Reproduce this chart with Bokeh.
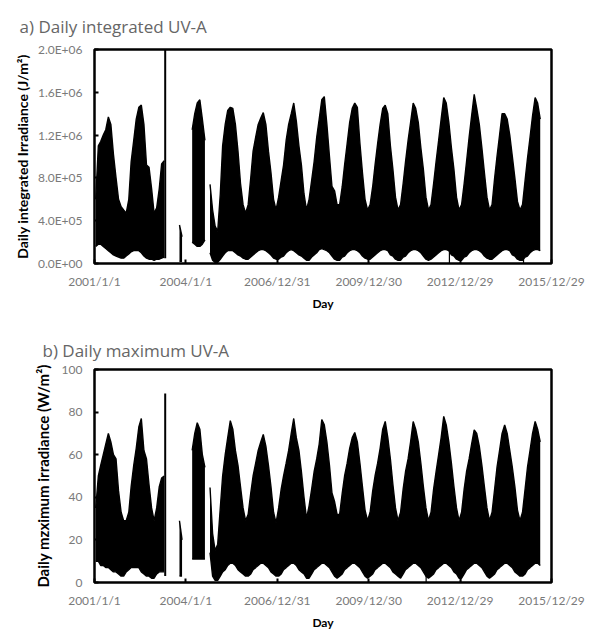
import pandas as pd
from bokeh.plotting import figure
from bokeh.layouts import column
from bokeh.models import Range1d, FixedTicker
from bokeh.embed import file_html
from bokeh.resources import INLINE

N = None
START = pd.Timestamp("2001-01-01")

# x-axis tick labels (dates on the axis)
x_tick_labels = ["2001/1/1", "2004/1/1", "2006/12/31", "2009/12/30", "2012/12/29", "2015/12/29"]

# y-axis ticks
ya_ticks = [0, 400000, 800000, 1200000, 1600000, 2000000]
ya_labels = ["0.0E+00", "4.0E+05", "8.0E+05", "1.2E+06", "1.6E+06", "2.0E+06"]
yb_ticks = [0, 20, 40, 60, 80, 100]
yb_labels = ["0", "20", "40", "60", "80", "100"]

# monthly months 2001-01 .. 2015-12
months = pd.date_range("2001-01-01", periods=180, freq="MS")

# a) daily integrated UV-A, monthly upper / lower envelope of the daily values (x 1e6 J/m2)
integ_hi = [
    0.60, 1.10, 1.14, 1.20, 1.25, 1.37, 1.30, 1.02, 0.80, 0.60, 0.53, 0.50,  # 2001
    0.47, 0.60, 0.95, 1.15, 1.35, 1.46, 1.48, 1.30, 0.92, 0.90, 0.70, 0.47,  # 2002
    0.52, 0.70, 0.93, 0.96, N, N, N, N, N, 0.36, 0.25, N,                    # 2003
    N, N, 1.25, 1.40, 1.50, 1.53, 1.35, 1.15, N, 0.74, 0.50, 0.35,           # 2004
    0.30, 0.65, 1.10, 1.30, 1.43, 1.46, 1.45, 1.30, 1.05, 0.75, 0.55, 0.47,  # 2005
    0.55, 0.80, 1.05, 1.18, 1.30, 1.36, 1.41, 1.30, 1.05, 0.85, 0.60, 0.50,  # 2006
    0.62, 0.78, 0.92, 1.15, 1.30, 1.40, 1.50, 1.33, 1.10, 0.92, 0.65, 0.50,  # 2007
    0.60, 0.78, 0.95, 1.18, 1.35, 1.53, 1.56, 1.30, 1.00, 0.72, 0.68, 0.55,  # 2008
    0.55, 0.72, 0.92, 1.12, 1.32, 1.45, 1.50, 1.46, 1.12, 0.85, 0.60, 0.50,  # 2009
    0.55, 0.72, 0.92, 1.12, 1.30, 1.45, 1.48, 1.40, 1.10, 0.88, 0.62, 0.50,  # 2010
    0.55, 0.75, 0.95, 1.15, 1.32, 1.50, 1.45, 1.32, 1.08, 0.88, 0.62, 0.50,  # 2011
    0.55, 0.75, 0.95, 1.15, 1.35, 1.55, 1.50, 1.32, 1.08, 0.88, 0.62, 0.50,  # 2012
    0.55, 0.75, 0.95, 1.18, 1.38, 1.58, 1.45, 1.30, 1.08, 0.85, 0.62, 0.50,  # 2013
    0.55, 0.80, 1.00, 1.20, 1.40, 1.40, 1.35, 1.20, 1.00, 0.80, 0.58, 0.50,  # 2014
    0.55, 0.78, 0.98, 1.18, 1.38, 1.55, 1.50, 1.35, N, N, N, N,              # 2015
]
integ_lo = [
    0.16, 0.18, 0.18, 0.16, 0.14, 0.12, 0.10, 0.08, 0.07, 0.06, 0.05, 0.05,  # 2001
    0.07, 0.09, 0.11, 0.12, 0.12, 0.12, 0.10, 0.07, 0.05, 0.04, 0.04, 0.03,  # 2002
    0.04, 0.04, 0.05, 0.06, N, N, N, N, N, 0.02, 0.02, N,                    # 2003
    N, N, 0.20, 0.18, 0.16, 0.16, 0.18, 0.22, N, 0.10, 0.03, 0.01,           # 2004
    0.01, 0.04, 0.07, 0.10, 0.12, 0.12, 0.12, 0.10, 0.08, 0.07, 0.05, 0.04,  # 2005
    0.04, 0.06, 0.08, 0.10, 0.12, 0.13, 0.13, 0.12, 0.10, 0.08, 0.05, 0.04,  # 2006
    0.04, 0.06, 0.07, 0.10, 0.12, 0.13, 0.12, 0.10, 0.08, 0.07, 0.05, 0.03,  # 2007
    0.03, 0.06, 0.08, 0.10, 0.13, 0.14, 0.13, 0.12, 0.10, 0.07, 0.04, 0.03,  # 2008
    0.03, 0.06, 0.07, 0.10, 0.12, 0.13, 0.13, 0.12, 0.10, 0.07, 0.05, 0.04,  # 2009
    0.04, 0.06, 0.08, 0.10, 0.12, 0.13, 0.13, 0.12, 0.08, 0.07, 0.04, 0.03,  # 2010
    0.03, 0.06, 0.07, 0.10, 0.12, 0.13, 0.13, 0.12, 0.10, 0.07, 0.04, 0.03,  # 2011
    0.04, 0.06, 0.08, 0.10, 0.12, 0.13, 0.13, 0.12, 0.08, 0.07, 0.04, 0.03,  # 2012
    0.03, 0.06, 0.07, 0.10, 0.12, 0.13, 0.13, 0.12, 0.10, 0.07, 0.05, 0.04,  # 2013
    0.04, 0.06, 0.08, 0.10, 0.12, 0.13, 0.13, 0.12, 0.08, 0.07, 0.04, 0.03,  # 2014
    0.03, 0.06, 0.07, 0.10, 0.12, 0.13, 0.13, 0.12, N, N, N, N,              # 2015
]

# b) daily maximum UV-A, monthly upper / lower envelope (W/m2)
max_hi = [
    35, 50, 55, 60, 65, 70, 66, 60, 58, 43, 33, 29,        # 2001
    29, 33, 45, 55, 63, 73, 77, 62, 58, 46, 35, 29,        # 2002
    35, 45, 49, 50, N, N, N, N, N, 29, 20, N,              # 2003
    N, N, 62, 70, 75, 72, 60, 54, N, 44.6, 23, 15,         # 2004
    18, 35, 50, 60, 68, 76, 72, 62, 55, 45, 35, 29,        # 2005
    32, 42, 50, 56, 62, 66, 69.5, 64, 55, 45, 33, 28,      # 2006
    35, 44, 50, 56, 62, 70, 77, 68, 62, 52, 40, 30,        # 2007
    36, 44, 52, 58, 65, 76.5, 74, 66, 55, 42, 38, 32,      # 2008
    32, 42, 50, 56, 63, 68, 70.4, 66, 56, 45, 34, 29,      # 2009
    33, 43, 50, 56, 63, 72, 75.6, 68, 58, 46, 35, 29,      # 2010
    33, 44, 52, 58, 66, 75.6, 72, 66, 56, 45, 35, 29,      # 2011
    33, 44, 52, 60, 68, 78, 74, 66, 56, 45, 35, 29,        # 2012
    33, 44, 52, 58, 65, 71.7, 70, 64, 55, 45, 35, 29,      # 2013
    33, 44, 54, 62, 70, 74, 70, 62, 54, 45, 34, 29,        # 2014
    33, 44, 54, 62, 70, 75.6, 72, 66, N, N, N, N,          # 2015
]
max_lo = [
    10, 10, 8, 8, 7, 7, 6, 5, 5, 4, 3, 3,                  # 2001
    5, 6, 7, 7, 7, 7, 5, 4, 3, 3, 2, 2,                    # 2002
    4, 5, 5, 5, N, N, N, N, N, 3, 3, N,                    # 2003
    N, N, 11, 11, 11, 11, 11, 11, N, 14, 3, 1,             # 2004
    1, 3, 5, 6, 8, 9, 9, 8, 6, 5, 4, 3,                    # 2005
    3, 4, 6, 7, 8, 9, 9, 8, 7, 5, 4, 3,                    # 2006
    3, 4, 6, 7, 8, 9, 9, 8, 6, 5, 4, 2,                    # 2007
    2, 4, 6, 7, 8, 9, 9, 8, 7, 5, 3, 2,                    # 2008
    3, 4, 6, 7, 8, 9, 9, 8, 7, 5, 3, 2,                    # 2009
    3, 4, 6, 7, 8, 9, 9, 8, 7, 5, 4, 3,                    # 2010
    2, 4, 6, 7, 8, 9, 9, 8, 7, 5, 3, 2,                    # 2011
    3, 4, 6, 7, 8, 9, 9, 8, 7, 5, 4, 2,                    # 2012
    2, 4, 6, 7, 8, 9, 9, 8, 7, 5, 3, 2,                    # 2013
    3, 4, 6, 7, 8, 9, 9, 8, 7, 5, 4, 3,                    # 2014
    3, 4, 6, 7, 8, 9, 9, 8, N, N, N, N,                    # 2015
]

# isolated single-day spikes
spike_dates = ["2003-04-28"]
spike_integ = [2.05]     # x 1e6 J/m2
spike_max = [88.7]       # W/m2

# single-day drops to near zero
drop_dates_integ = ["2012-08-23", "2015-01-28"]
drop_dates_max = ["2011-11-18", "2013-01-05"]

SCALE_A = 1e6
FONT = "Lato"
TITLE_FONT = "Open Sans"
GREY = "#7a7a7a"


def day_of(ts):
    return (pd.Timestamp(ts) - START).days


x_ticks = [day_of(pd.to_datetime(s, format="%Y/%m/%d")) for s in x_tick_labels]
x_mid = [day_of(m) + 15 for m in months]


def draw_series(p, hi, lo, scale):
    run = []
    runs = []
    for x, h, l in zip(x_mid, hi, lo):
        if h is None:
            if run:
                runs.append(run)
            run = []
        else:
            run.append((x, h * scale, l * scale))
    if run:
        runs.append(run)
    for r in runs:
        xs = [t[0] for t in r]
        ys_hi = [t[1] for t in r]
        ys_lo = [t[2] for t in r]
        p.varea(x=xs, y1=ys_lo, y2=ys_hi, fill_color="black")
        p.line(xs, ys_hi, line_color="black", line_width=1.4)
        p.line(xs, ys_lo, line_color="black", line_width=1.4)


def make_panel(title, t_offset, t_standoff, y_end, y_ticks, y_labels, y_title, y_title_size,
               hi, lo, scale, spikes, spike_base, drops, drop_top, borders, ylab_standoff):
    bl, br, bt, bb = borders
    p = figure(width=595, height=316, x_range=Range1d(0, x_ticks[-1]), y_range=Range1d(0, y_end),
               output_backend="svg", toolbar_location=None,
               min_border_left=bl, min_border_right=br, min_border_top=bt, min_border_bottom=bb)
    p.title.text = title
    p.title.text_font = TITLE_FONT
    p.title.text_font_size = "17px"
    p.title.text_font_style = "normal"
    p.title.text_color = "#666666"
    p.title.align = "left"
    p.title.offset = t_offset
    p.title.standoff = t_standoff
    p.grid.visible = False
    p.background_fill_color = "white"
    p.border_fill_color = "white"
    p.outline_line_color = "black"
    p.outline_line_width = 2.5
    p.outline_line_alpha = 1.0

    draw_series(p, hi, lo, scale)
    sx = [day_of(d) for d in spike_dates]
    p.segment(x0=sx, y0=[spike_base] * len(sx), x1=sx, y1=[v * scale for v in spikes],
              line_color="black", line_width=2)
    dx = [day_of(d) for d in drops]
    p.segment(x0=dx, y0=[0] * len(dx), x1=dx, y1=[drop_top] * len(dx),
              line_color="black", line_width=1.2)

    xa = p.xaxis[0]
    ya = p.yaxis[0]
    xa.ticker = FixedTicker(ticks=x_ticks)
    xa.major_label_overrides = {t: l for t, l in zip(x_ticks, x_tick_labels)}
    ya.ticker = FixedTicker(ticks=y_ticks)
    ya.major_label_overrides = {t: l for t, l in zip(y_ticks, y_labels)}
    for ax in (xa, ya):
        ax.axis_line_color = None
        ax.major_tick_in = 4
        ax.major_tick_out = 0
        ax.major_tick_line_color = "black"
        ax.major_tick_line_width = 2
        ax.minor_tick_line_color = None
        ax.major_label_text_font = FONT
        ax.major_label_text_font_size = "12px"
        ax.major_label_text_color = GREY
        ax.axis_label_text_font = FONT
        ax.axis_label_text_font_style = "bold"
        ax.axis_label_text_color = "black"
    xa.axis_label = "Day"
    xa.axis_label_text_font_size = "12px"
    xa.major_label_standoff = 10
    xa.axis_label_standoff = 4
    ya.axis_label = y_title
    ya.axis_label_text_font_size = y_title_size
    ya.major_label_standoff = 12
    ya.axis_label_standoff = ylab_standoff
    return p


pa = make_panel("a) Daily integrated UV-A", -75, 24, 2000000, ya_ticks, ya_labels,
                "Daily integrated Irradiance (J/m\u00b2)", "14px",
                integ_hi, integ_lo, SCALE_A, spike_integ, 0.05e6,
                drop_dates_integ, 0.3e6, (92, 42, 49, 53), 4)
pb = make_panel("b) Daily maximum UV-A", -52, 16, 100, yb_ticks, yb_labels,
                "Daily mzximum irradiance (W/m\u00b2)", "15px",
                max_hi, max_lo, 1, spike_max, 3,
                drop_dates_max, 15, (94, 44, 53, 49), 7)

layout = column(pa, pb, spacing=0)
open("out.html", "w").write(file_html(layout, INLINE))
